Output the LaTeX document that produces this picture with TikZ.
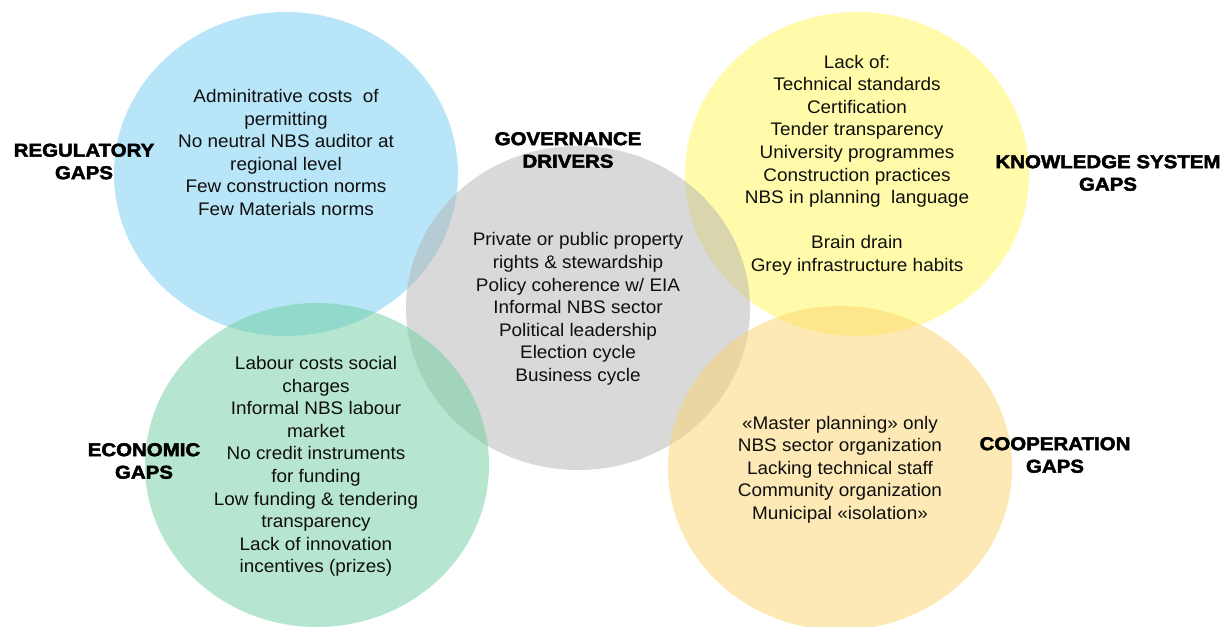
\documentclass[tikz,border=0pt]{standalone}
\usepackage{fontspec}
\setmainfont{Liberation Sans}
\newfontfamily\bodyfont[FakeStretch=1.04]{Liberation Sans}
\newfontfamily\heavyfont[FakeBold=2.5,FakeStretch=1.1]{Liberation Sans Bold}
\usetikzlibrary{shapes.geometric}
\definecolor{cblue}{RGB}{113,205,241}
\definecolor{cgray}{RGB}{179,179,179}
\definecolor{cyellow}{RGB}{255,247,85}
\definecolor{cgreen}{RGB}{109,205,159}
\definecolor{corange}{RGB}{251,211,107}
\definecolor{txt}{RGB}{15,15,15}
\tikzset{
  blob/.style={ellipse, draw=none, fill opacity=0.5, inner sep=0pt,
    minimum width=344pt, minimum height=324pt},
  body/.style={align=center, text=txt, inner sep=0pt,
    font=\bodyfont\fontsize{18.2}{22.6}\selectfont},
  head/.style={align=center, text=black, inner sep=0pt,
    font=\heavyfont\fontsize{18.6}{22.5}\selectfont}
}
\begin{document}
\begin{tikzpicture}[x=1pt,y=-1pt]
\useasboundingbox (0,0) rectangle (1230,626);
\clip (0,0) rectangle (1230,626);
\node[blob, fill=cblue] (reg) at (286,174) {};
\node[blob, fill=cyellow] (know) at (857,174) {};
\node[blob, fill=cgray] (gov) at (578,308) {};
\node[blob, fill=cgreen] (eco) at (317,465) {};
\node[blob, fill=corange] (coop) at (840,468) {};

\node[body] (regtxt) at (286,152.5) {Adminitrative costs\ \ of\\permitting\\No neutral NBS auditor at\\regional level\\Few construction norms\\Few Materials norms};
\node[body] (govtxt) at (578,309) {Private or public property\\rights \& stewardship\\Policy coherence w/ EIA\\Informal NBS sector\\Political leadership\\Election cycle\\Business cycle};
\node[body] (knowtxt) at (857,165) {Lack of:\\Technical standards\\Certification\\Tender transparency\\University programmes\\Construction practices\\NBS in planning\ \ language\\[22.6pt]Brain drain\\Grey infrastructure habits};
\node[body] (ecotxt) at (316,466.5) {Labour costs social\\charges\\Informal NBS labour\\market\\No credit instruments\\for funding\\Low funding \& tendering\\transparency\\Lack of innovation\\incentives (prizes)};
\node[body] (cooptxt) at (840,469.5) {«Master planning» only\\NBS sector organization\\Lacking technical staff\\Community organization\\Municipal «isolation»};

\node[head] (reglab) at (84,161.5) {REGULATORY\\GAPS};
\node[head] (govlab) at (568,150) {GOVERNANCE\\DRIVERS};
\node[head] (knowlab) at (1108,173) {KNOWLEDGE SYSTEM\\GAPS};
\node[head] (ecolab) at (144,461) {ECONOMIC\\GAPS};
\node[head] (cooplab) at (1055,455) {COOPERATION\\GAPS};
\end{tikzpicture}
\end{document}
